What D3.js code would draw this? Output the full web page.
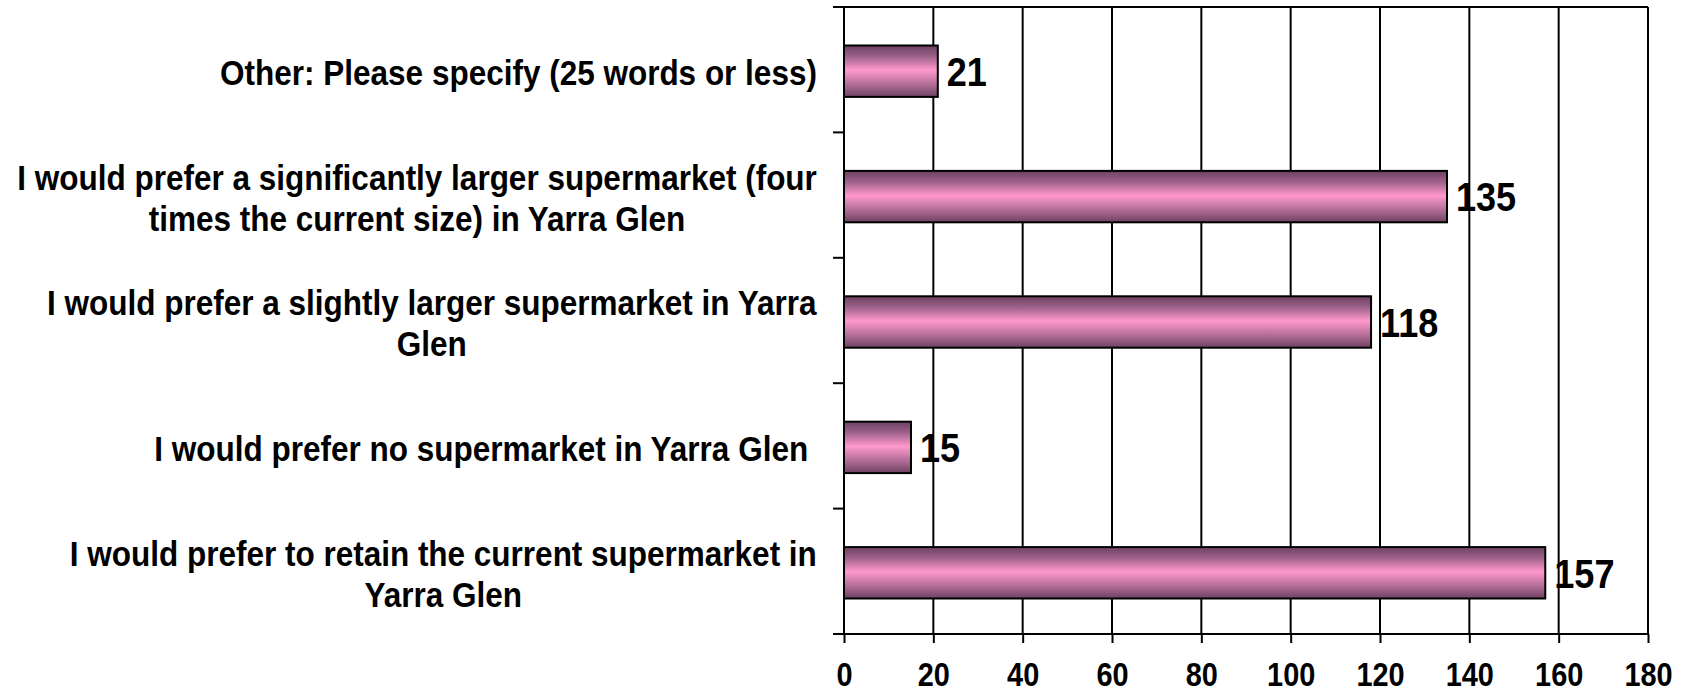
<!DOCTYPE html>
<html>
<head>
    <meta charset="utf-8" />
    <title>Yarra Glen supermarket preference</title>
    <script src="https://d3js.org/d3.v7.min.js"></script>
</head>
<style>
    body { margin: 0; background-color: white; }
    svg { display: block; }
    text { font-family: "Liberation Sans", Arial, sans-serif; font-weight: bold; fill: black; white-space: pre; }
</style>
<body>
    <div id="container"></div>
    <script>
        /* chart data, top row first */
        var categories = [
            "Other: Please specify (25 words or less)",
            "I would prefer a significantly larger supermarket (four\ntimes the current size) in Yarra Glen",
            "I would prefer a slightly larger supermarket in Yarra\nGlen",
            "I would prefer no supermarket in Yarra Glen ",
            "I would prefer to retain the current supermarket in\nYarra Glen"
        ];
        var counts = [21, 135, 118, 15, 157];
        var xTicks = [0, 20, 40, 60, 80, 100, 120, 140, 160, 180];

        var width = 1686, height = 688;
        var plotLeft = 844, plotRight = 1648, plotTop = 7, plotBottom = 634;

        var svg = d3.select("#container").append("svg")
            .attr("width", width).attr("height", height);

        var grad = svg.append("defs").append("linearGradient")
            .attr("id", "barfill").attr("x1", 0).attr("y1", 0).attr("x2", 0).attr("y2", 1);
        grad.append("stop").attr("offset", "0%").attr("stop-color", "#6c4160");
        grad.append("stop").attr("offset", "20%").attr("stop-color", "#9a5f88");
        grad.append("stop").attr("offset", "48%").attr("stop-color", "#ff99cc");
        grad.append("stop").attr("offset", "80%").attr("stop-color", "#a6668f");
        grad.append("stop").attr("offset", "100%").attr("stop-color", "#6c4160");

        var x = d3.scaleLinear().domain([0, 180]).range([plotLeft, plotRight]);
        var y = d3.scaleBand().domain(d3.range(categories.length)).range([plotTop, plotBottom]).padding(0);
        var barH = y.bandwidth() * 0.41;

        // vertical gridlines
        svg.append("g").selectAll("line")
            .data(xTicks.slice(1))
            .enter().append("line")
            .attr("x1", d => x(d)).attr("x2", d => x(d))
            .attr("y1", plotTop).attr("y2", plotBottom)
            .attr("stroke", "black").attr("stroke-width", 2);

        // top border
        svg.append("line")
            .attr("x1", plotLeft).attr("x2", plotRight).attr("y1", plotTop).attr("y2", plotTop)
            .attr("stroke", "black").attr("stroke-width", 2);

        // bars
        svg.append("g").selectAll("rect")
            .data(counts)
            .enter().append("rect")
            .attr("x", x(0))
            .attr("y", (d, i) => y(i) + y.bandwidth() / 2 - barH / 2 + 1.5)
            .attr("width", d => x(d) - x(0))
            .attr("height", barH)
            .attr("fill", "url(#barfill)")
            .attr("stroke", "black").attr("stroke-width", 2);

        // value labels (text in the original is tall and narrow)
        svg.append("g").selectAll("text")
            .data(counts)
            .enter().append("text")
            .attr("transform", (d, i) => "translate(" + (x(d) + 9) + "," + (y(i) + y.bandwidth() / 2 + 1.5) + ") scale(0.88,1)")
            .attr("dy", "0.36em")
            .style("font-size", "41px")
            .text(d => d);

        // bottom axis
        var xAxis = svg.append("g").attr("transform", "translate(0," + plotBottom + ")")
            .call(d3.axisBottom(x).tickValues(xTicks).tickSizeInner(9).tickSizeOuter(0).tickPadding(0));
        xAxis.select(".domain").attr("stroke", "black").attr("stroke-width", 2)
            .attr("d", "M" + (plotLeft - 11) + ",0H" + plotRight);
        xAxis.selectAll(".tick line").attr("stroke", "black").attr("stroke-width", 2);
        xAxis.selectAll(".tick text")
            .attr("y", 0).attr("dy", 0)
            .attr("transform", "translate(0,52) scale(0.85,1)")
            .style("font-size", "34px")
            .style("font-family", "'Liberation Sans', Arial, sans-serif")
            .style("font-weight", "bold")
            .attr("fill", "black");

        // left axis with ticks at category boundaries
        var bounds = d3.range(categories.length + 1).map(i => plotTop + i * y.step());
        svg.append("line")
            .attr("x1", plotLeft).attr("x2", plotLeft).attr("y1", plotTop).attr("y2", plotBottom)
            .attr("stroke", "black").attr("stroke-width", 2);
        svg.append("g").selectAll("line")
            .data(bounds)
            .enter().append("line")
            .attr("x1", plotLeft - 11).attr("x2", plotLeft)
            .attr("y1", d => d).attr("y2", d => d)
            .attr("stroke", "black").attr("stroke-width", 2);

        // category labels, right aligned block, lines centred within block
        var labelRight = 817, lineGap = 41, squeeze = 0.875;
        categories.forEach(function (c, i) {
            var lines = c.split("\n");
            var cy = y(i) + y.bandwidth() / 2 + 2;
            var g = svg.append("g");
            lines.forEach(function (t, j) {
                g.append("text")
                    .attr("x", 0)
                    .attr("y", (j - (lines.length - 1) / 2) * lineGap)
                    .attr("dy", "0.36em")
                    .attr("text-anchor", "middle")
                    .style("font-size", "36px")
                    .text(t);
            });
            var w = g.node().getBBox().width * squeeze;
            g.attr("transform", "translate(" + (labelRight - w / 2) + "," + cy + ") scale(" + squeeze + ",1)");
        });
    </script>
</body>
</html>
